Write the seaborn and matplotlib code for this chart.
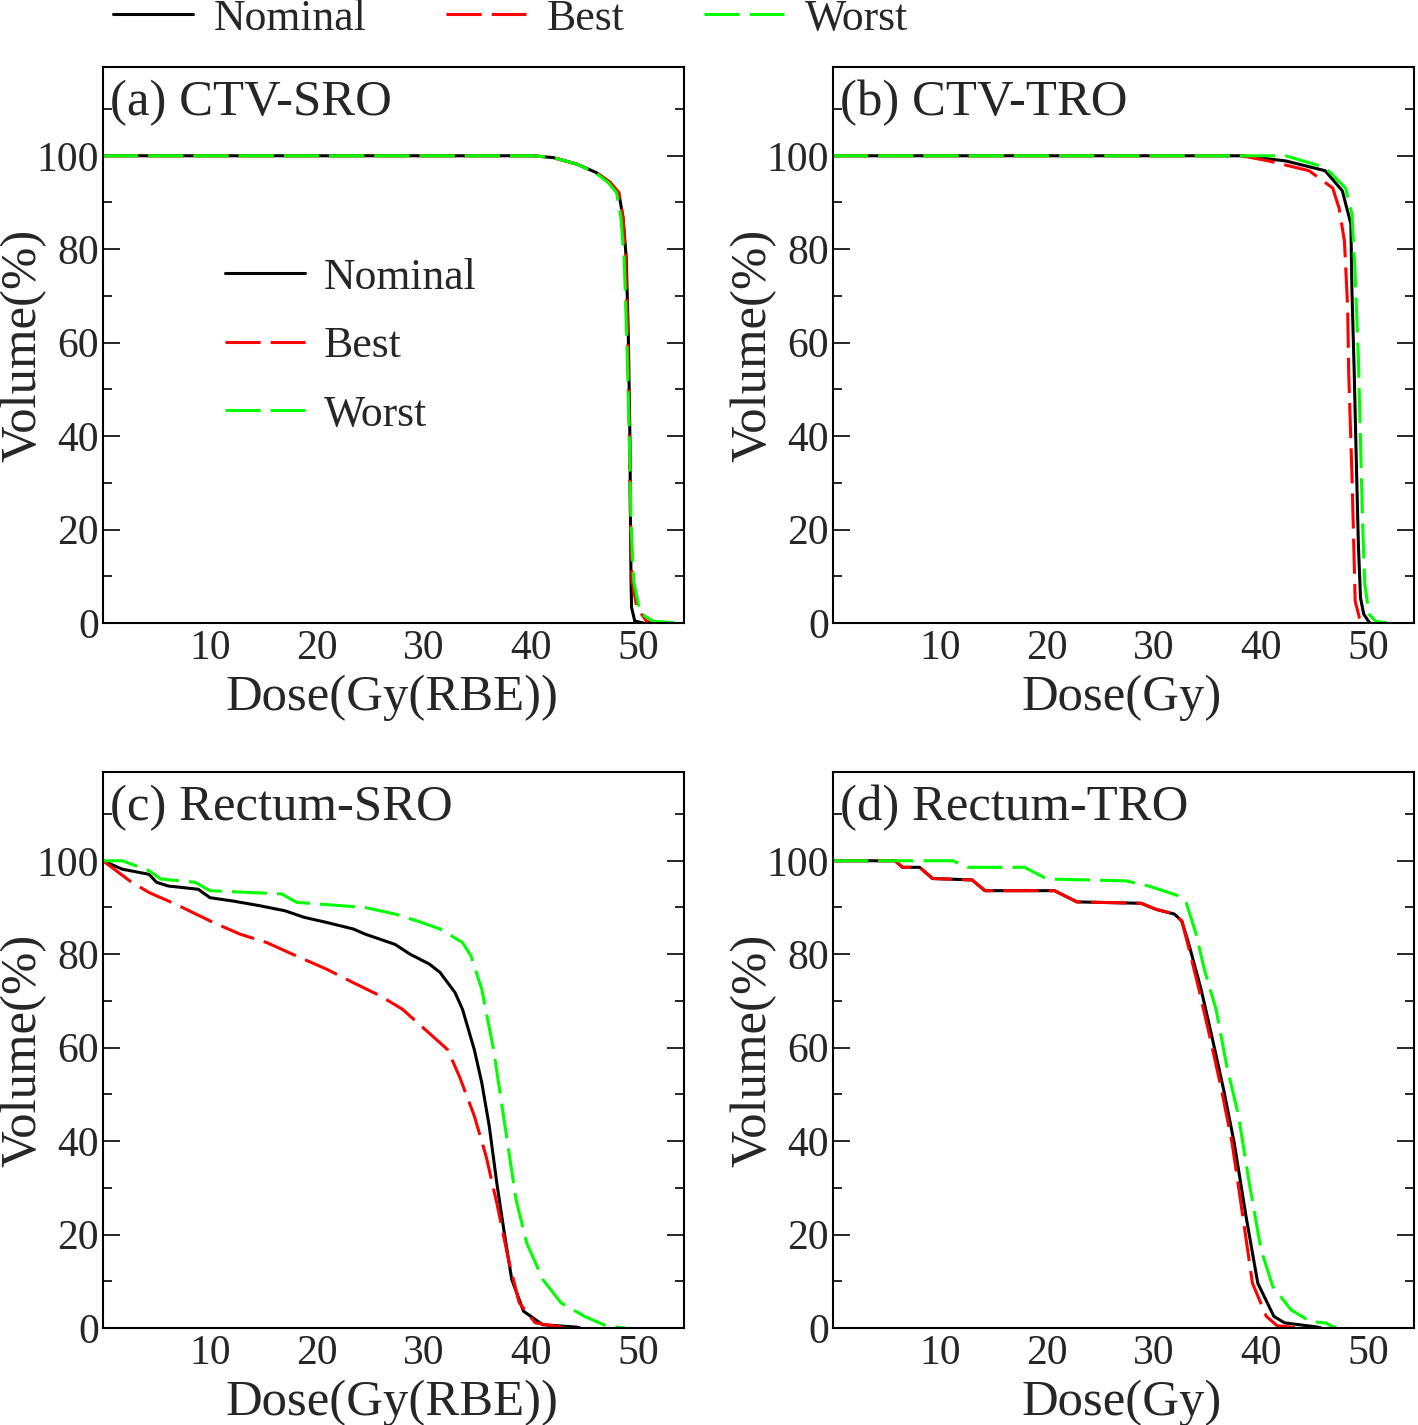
import pandas as pd
import matplotlib.pyplot as plt
import seaborn as sns
from matplotlib.ticker import MultipleLocator

# ---- data (dose in Gy, volume in %) ----
# (a) CTV-SRO
a_nom_dose = [0, 40.2, 42.1, 44.3, 46.1, 47.4, 48.2, 48.6, 48.9, 49.1, 49.25, 49.3, 49.35, 49.4, 49.7, 50.5]
a_nom_vol = [100, 100, 99.6, 98.2, 96.4, 94.3, 92.1, 86.8, 78.2, 61.1, 39.0, 21.2, 9.0, 3.3, 0.4, 0]
a_best_dose = [0, 40.2, 42.1, 44.3, 46.1, 47.4, 48.2, 48.6, 48.85, 49.05, 49.2, 49.3, 49.45, 49.9, 50.8, 51.4]
a_best_vol = [100, 100, 99.6, 98.2, 96.4, 94.3, 92.1, 86.8, 78.2, 61.1, 39.0, 21.2, 9.0, 3.3, 0.4, 0]
a_worst_dose = [0, 40.2, 42.1, 44.3, 46.0, 47.2, 48.0, 48.4, 48.7, 48.95, 49.2, 49.35, 49.6, 50.2, 51.4, 53.2, 53.4]
a_worst_vol = [100, 100, 99.6, 98.2, 96.4, 94.3, 92.1, 86.8, 78.2, 61.1, 39.0, 21.2, 9.0, 2.1, 0.4, 0.1, 0]

# (b) CTV-TRO
b_nom_dose = [0, 38.25, 42.3, 46.0, 47.6, 48.4, 48.5, 48.7, 48.9, 49.1, 49.3, 49.6, 50.1, 50.2]
b_nom_vol = [100, 100, 98.9, 96.8, 92.5, 85.4, 71.1, 54.7, 35.4, 16.9, 5.4, 1.9, 0.2, 0]
b_best_dose = [0, 38.2, 40.7, 44.5, 46.7, 47.3, 47.8, 48.1, 48.2, 48.5, 48.7, 48.8, 49.2, 49.6]
b_best_vol = [100, 100, 98.9, 96.8, 93.1, 88.8, 81.7, 67.5, 53.3, 31.8, 14.0, 4.7, 1.1, 0]
b_worst_dose = [0, 42.3, 46.0, 47.9, 48.5, 48.8, 49.1, 49.3, 49.5, 49.7, 50.1, 50.7, 51.8]
b_worst_vol = [100, 100, 97.5, 93.1, 87.5, 74.7, 56.8, 39.0, 21.1, 8.3, 1.9, 0.4, 0]

# (c) Rectum-SRO
c_nom_dose = [0, 1.8, 4.3, 5.0, 6.1, 8.9, 10.0, 12.1, 14.6, 17.0, 18.8, 20.9, 23.4, 24.5, 27.3, 28.7,
              30.5, 31.5, 32.9, 33.6, 34.7, 35.4, 36.1, 36.8, 37.5, 38.2, 39.3, 41.1, 44.2, 44.6]
c_nom_vol = [100, 98.2, 97.1, 95.4, 94.6, 93.9, 92.1, 91.4, 90.4, 89.3, 87.9, 86.8, 85.4, 84.3, 82.1, 80.0,
             77.9, 76.1, 71.8, 68.2, 59.6, 52.5, 43.2, 31.1, 20.4, 10.4, 3.6, 0.7, 0.2, 0]
c_best_dose = [0, 2.5, 4.3, 6.8, 10.3, 12.8, 15.3, 18.1, 20.9, 23.4, 25.9, 28.0, 30.1, 32.2, 33.3,
               34.7, 35.8, 36.8, 37.9, 38.9, 40.4, 42.8, 43.0]
c_best_vol = [100, 95.7, 93.2, 90.7, 86.8, 84.3, 82.5, 79.6, 76.8, 73.9, 71.1, 68.2, 63.9, 59.6, 53.9,
              45.4, 36.8, 26.8, 14.6, 5.4, 1.1, 0.2, 0]
c_worst_dose = [0, 1.8, 4.3, 5.4, 8.6, 10.0, 16.7, 18.1, 24.5, 27.3, 29.4, 31.5, 33.6, 34.4, 35.4,
                36.5, 37.2, 37.9, 38.6, 39.6, 41.1, 42.8, 45.0, 47.1, 48.8]
c_worst_vol = [100, 100, 97.9, 96.1, 95.4, 93.6, 92.9, 91.1, 90.0, 88.6, 87.1, 85.4, 82.5, 79.6, 72.5,
               59.6, 48.9, 38.2, 27.5, 18.2, 10.4, 5.4, 2.5, 0.4, 0]

# (d) Rectum-TRO
d_nom_dose = [0, 5.8, 6.5, 8.1, 9.3, 13.0, 14.2, 20.7, 22.8, 28.8, 30.2, 31.9, 32.6, 33.3, 34.4, 35.4,
              36.5, 37.5, 38.6, 39.7, 41.2, 42.2, 45.3, 45.6]
d_nom_vol = [100, 100, 98.6, 98.6, 96.2, 95.9, 93.6, 93.6, 91.2, 90.9, 89.6, 88.6, 87.1, 81.8, 72.5, 62.5,
             51.1, 39.6, 23.9, 9.6, 2.5, 1.1, 0.2, 0]
d_best_dose = [0, 5.8, 6.5, 8.1, 9.3, 13.0, 14.2, 20.7, 22.8, 28.8, 30.2, 31.9, 32.6, 33.2, 34.2, 35.2,
               36.3, 37.3, 38.3, 39.2, 40.5, 41.5, 43.6]
d_best_vol = [100, 100, 98.6, 98.6, 96.2, 95.9, 93.6, 93.6, 91.2, 90.9, 89.6, 88.6, 87.1, 81.8, 72.5, 62.5,
              51.1, 39.6, 23.9, 9.6, 2.5, 0.5, 0]
d_worst_dose = [0, 11.2, 12.6, 17.9, 20.0, 27.4, 29.5, 32.3, 33.0, 33.9, 34.7, 35.8, 36.8, 37.9, 38.9,
                40.0, 41.1, 42.8, 44.6, 46.0, 47.0]
d_worst_vol = [100, 100, 98.6, 98.6, 96.1, 95.7, 94.6, 92.5, 91.1, 84.6, 76.8, 68.2, 56.1, 45.4, 31.1,
               16.8, 8.9, 3.9, 1.4, 1.1, 0]

panels = [
    ('(a) CTV-SRO', 'Dose(Gy(RBE))', [(a_nom_dose, a_nom_vol), (a_best_dose, a_best_vol), (a_worst_dose, a_worst_vol)]),
    ('(b) CTV-TRO', 'Dose(Gy)', [(b_nom_dose, b_nom_vol), (b_best_dose, b_best_vol), (b_worst_dose, b_worst_vol)]),
    ('(c) Rectum-SRO', 'Dose(Gy(RBE))', [(c_nom_dose, c_nom_vol), (c_best_dose, c_best_vol), (c_worst_dose, c_worst_vol)]),
    ('(d) Rectum-TRO', 'Dose(Gy)', [(d_nom_dose, d_nom_vol), (d_best_dose, d_best_vol), (d_worst_dose, d_worst_vol)]),
]
series_names = ['Nominal', 'Best', 'Worst']
colors = ['black', '#ff0000', '#00ff00']
styles = ['-', (0, (11.5, 3.3)), (0, (11.5, 3.3))]

sns.set_style('white')
plt.rcParams['font.family'] = ['Liberation Serif', 'DejaVu Serif']

fig = plt.figure(figsize=(14.18, 14.25), dpi=100)
W, H = 1418, 1425
boxes = [(103, 67), (833, 67), (103, 772), (833, 772)]  # left, top in px
aw, ah = 581, 556

axes = []
for (title, xlab, series), (lx, ty) in zip(panels, boxes):
    ax = fig.add_axes([lx / W, 1 - (ty + ah) / H, aw / W, ah / H])
    for (dose, vol), name, c, ls in zip(series, series_names, colors, styles):
        df = pd.DataFrame({'dose': dose, 'vol': vol})
        sns.lineplot(data=df, x='dose', y='vol', ax=ax, color=c, linestyle=ls,
                     linewidth=2.2, estimator=None, sort=False, label=name)
    if ax.get_legend():
        ax.get_legend().remove()
    ax.set_xlim(0, 54.3)
    ax.set_ylim(0, 119)
    ax.set_xticks([10, 20, 30, 40, 50])
    ax.set_yticks([0, 20, 40, 60, 80, 100])
    ax.yaxis.set_minor_locator(MultipleLocator(10))
    ax.tick_params(axis='x', length=0, labelsize=30, pad=5)
    ax.tick_params(axis='y', which='major', direction='in', left=True, right=True,
                   length=12, width=1.4, labelsize=30, pad=3)
    ax.tick_params(axis='y', which='minor', direction='in', left=True, right=True,
                   length=6.5, width=1.4)
    for sp in ax.spines.values():
        sp.set_linewidth(1.5)
        sp.set_color('black')
    ax.set_xlabel(xlab, fontsize=36.5)
    ax.set_ylabel('Volume(%)', fontsize=36.5)
    ax.xaxis.set_label_coords(0.497, -0.092)
    ax.yaxis.set_label_coords(-0.097, 0.5)
    ax.text(0.012, 0.978, title, transform=ax.transAxes, ha='left', va='top', fontsize=36.5)
    axes.append(ax)

handles = axes[0].get_lines()[:3]
axes[0].legend(handles, series_names, loc='upper left', bbox_to_anchor=(0.21, 0.657),
               frameon=False, fontsize=31.5, handlelength=1.83, handletextpad=0.42,
               labelspacing=0.65, borderpad=0, borderaxespad=0)
fig.legend(handles, series_names, loc='center', bbox_to_anchor=(0.36, 0.987), ncol=3,
           frameon=False, fontsize=31.5, handlelength=1.83, handletextpad=0.46,
           columnspacing=1.83, borderpad=0)

fig.savefig('out.png', dpi=100)
